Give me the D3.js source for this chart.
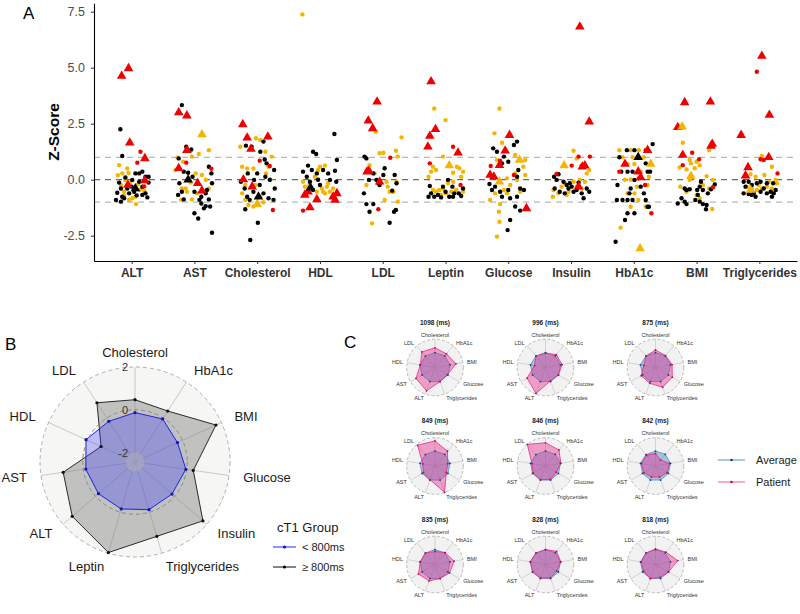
<!DOCTYPE html>
<html><head><meta charset="utf-8">
<script src="https://cdn.jsdelivr.net/npm/d3@7"></script>
<style>
body{margin:0;background:#fff}
svg{display:block;font-family:"Liberation Sans",Arial,sans-serif}
</style>
</head><body>
<svg id="chart" width="800" height="614"></svg>
<script>
// ---------------- DATA ----------------
const categories = ["ALT","AST","Cholesterol","HDL","LDL","Leptin","Glucose","Insulin","HbA1c","BMI","Triglycerides"];
const yTicks = [-2.5, 0, 2.5, 5, 7.5];
const refLines = [-1, 0, 1];
// each point: [jitter (fraction of category step), z-score, code]
// codes: k/g/r = black/gold/red dot, K/G/R = black/gold/red triangle
const zALT = [[-0.16,4.63,"R"],[-0.05,4.97,"R"],[-0.03,1.65,"R"],[0.21,0.95,"R"],[-0.06,-0.24,"R"],[0.21,-0.04,"R"],[0.06,-0.39,"K"],
[-0.18,2.25,"k"],[-0.15,1.06,"k"],[-0.2,-0.13,"k"],[-0.23,-0.58,"k"],[-0.25,-0.91,"k"],[-0.17,-0.98,"k"],[-0.12,-0.83,"k"],[-0.04,-0.61,"k"],[0.0,-0.31,"k"],[0.06,0.28,"k"],[0.12,0.28,"k"],[0.17,0.36,"k"],[0.22,0.13,"k"],[0.27,0.13,"k"],[0.27,-0.13,"k"],[0.22,-0.61,"k"],[0.25,-0.79,"k"],[0.17,-0.31,"k"],[0.01,-0.01,"k"],[-0.07,-0.39,"k"],[-0.17,-0.39,"k"],[-0.15,-0.76,"k"],[0.04,-0.54,"k"],[0.12,-0.09,"k"],[0.17,-0.68,"k"],[-0.1,0.1,"k"],[0.08,-0.7,"k"],
[-0.2,0.65,"g"],[-0.07,0.5,"g"],[-0.15,0.28,"g"],[-0.1,-0.01,"g"],[-0.02,-0.09,"g"],[-0.17,-0.24,"g"],[0.01,-0.83,"g"],[0.07,-1.09,"g"],[-0.04,-0.91,"g"],[0.12,-0.46,"g"],[0.17,-0.39,"g"],[-0.12,-0.54,"g"],[0.06,-0.76,"g"],[-0.22,0.2,"g"],[0.1,-0.2,"g"],[-0.05,0.3,"g"],[0.2,-0.5,"g"],[-0.12,-0.7,"g"],
[0.14,1.25,"r"],[0.09,0.76,"r"],[0.2,-0.3,"r"]];
const zAST = [[-0.25,3.0,"R"],[-0.12,2.86,"R"],[-0.12,1.32,"R"],[-0.25,0.51,"R"],[0.05,-0.16,"R"],[0.12,-0.49,"R"],[0.12,2.02,"G"],[-0.1,0.0,"K"],
[-0.2,3.33,"k"],[-0.13,1.47,"k"],[-0.05,1.35,"k"],[-0.25,0.95,"k"],[-0.17,0.36,"k"],[-0.1,0.31,"k"],[0.23,0.58,"k"],[0.27,0.28,"k"],[0.28,-0.16,"k"],[0.2,-0.46,"k"],[0.18,-0.61,"k"],[0.11,-0.76,"k"],[0.11,-1.06,"k"],[0.18,-1.18,"k"],[0.25,-1.2,"k"],[0.0,-1.5,"k"],[0.06,-1.73,"k"],[0.28,-2.37,"k"],[-0.24,-0.16,"k"],[-0.2,-0.54,"k"],[-0.17,-0.88,"k"],[-0.26,-0.68,"k"],[0,-0.54,"k"],[-0.03,0.13,"k"],[0.08,-0.9,"k"],[0.15,-1.28,"k"],[0.23,-0.88,"k"],
[-0.27,0.98,"g"],[-0.18,0.8,"g"],[-0.04,1.03,"g"],[0.07,1.15,"g"],[0.23,1.32,"g"],[0.02,0.28,"g"],[0.12,0.21,"g"],[0.18,0.0,"g"],[-0.14,-0.39,"g"],[-0.12,-0.54,"g"],[-0.21,-0.9,"g"],[-0.04,-0.88,"g"],[-0.2,-0.39,"g"],[-0.06,-0.13,"g"],[0.23,-0.39,"g"],[0.04,-0.61,"g"],[-0.3,0.43,"g"],
[-0.13,0.76,"r"],[0.27,0.49,"r"]];
const zCHOL = [[-0.23,2.47,"R"],[-0.16,1.87,"R"],[-0.1,1.37,"R"],[0.17,1.92,"R"],[-0.22,0.01,"R"],[-0.08,-0.31,"R"],[0,-1.09,"G"],[0.02,-0.76,"K"],
[-0.18,1.52,"k"],[-0.09,1.47,"k"],[0.1,1.7,"k"],[0.05,1.25,"k"],[0,0.28,"k"],[0.12,0.9,"k"],[-0.26,-0.09,"k"],[-0.2,-0.39,"k"],[-0.16,-0.76,"k"],[-0.19,-1.32,"k"],[-0.12,-0.9,"k"],[0.04,-0.24,"k"],[0.1,-0.61,"k"],[0.18,-0.83,"k"],[0.26,-0.9,"k"],[0.28,-0.39,"k"],[0.27,0.43,"k"],[0.15,0.73,"k"],[-0.06,-0.54,"k"],[0.01,-1.92,"k"],[-0.11,-2.69,"k"],[0.13,0.13,"k"],[0.2,0.0,"k"],[-0.15,0.28,"k"],[-0.05,-0.01,"k"],
[-0.27,1.47,"g"],[-0.02,1.85,"g"],[0.05,1.77,"g"],[-0.24,0.58,"g"],[-0.16,0.5,"g"],[-0.06,0.5,"g"],[-0.19,-0.24,"g"],[-0.03,-0.24,"g"],[0.14,0.28,"g"],[0.21,0,"g"],[-0.19,-0.9,"g"],[-0.14,-1.13,"g"],[0.1,-1.01,"g"],[-0.06,-1.2,"g"],[0.18,0.58,"g"],[0.13,1.25,"g"],[0.23,1.03,"g"],[-0.24,-0.61,"g"],[0.05,-0.76,"g"],
[0.25,-1.35,"r"],[0.04,0.85,"r"],[0.2,0.61,"r"]];
const zHDL = [[-0.28,7.38,"g"],
[0.23,2.04,"k"],[-0.11,1.25,"k"],[-0.06,1.15,"k"],[-0.27,0.36,"k"],[-0.19,0.63,"k"],[-0.13,0.43,"k"],[-0.05,0.28,"k"],[-0.21,0.13,"k"],[0.05,0.43,"k"],[0.13,0.28,"k"],[0.24,0.4,"k"],[0.27,0.88,"k"],[0.16,-0.01,"k"],[0,-0.24,"k"],[-0.11,-0.46,"k"],[-0.22,-0.61,"k"],[0.26,-0.09,"k"],[-0.16,-0.09,"k"],[-0.03,0,"k"],
[-0.27,-0.09,"g"],[-0.17,-0.24,"g"],[-0.05,-0.54,"g"],[0.03,-0.39,"g"],[0.05,-0.54,"g"],[0.11,-0.31,"g"],[0.16,-0.54,"g"],[0.08,-0.61,"g"],[0.21,-0.39,"g"],[0,0.58,"g"],[0.08,0.63,"g"],[-0.03,0.43,"g"],[0.13,-0.16,"g"],[-0.24,-0.31,"g"],[0.19,-0.76,"g"],[-0.08,0.13,"g"],
[-0.24,-0.68,"R"],[-0.19,-0.54,"R"],[-0.16,-1.24,"R"],[-0.05,-0.88,"R"],[0.21,-0.76,"R"],[0.24,-0.91,"R"],[0.27,-0.61,"R"],[-0.15,-0.36,"K"],
[-0.27,-1.38,"r"]];
const zLDL = [[-0.09,3.48,"R"],[-0.23,2.63,"R"],[-0.16,2.29,"R"],[-0.25,0.36,"R"],[-0.22,0.39,"R"],[-0.05,-0.09,"R"],
[-0.11,2.14,"g"],[-0.05,1.18,"g"],[0.01,1.2,"g"],[0.21,1.29,"g"],[0.3,1.89,"g"],[-0.21,0.65,"g"],[-0.13,0.28,"g"],[0.06,-0.09,"g"],[0.11,-0.54,"g"],[0.17,-0.54,"g"],[0.24,-0.98,"g"],[0.03,-0.91,"g"],[-0.17,-1.95,"g"],[-0.26,-0.24,"g"],[0.08,-0.31,"g"],[0.22,-0.09,"g"],[0.24,1.03,"g"],
[-0.29,1.03,"k"],[-0.26,0.95,"k"],[0.03,0.51,"k"],[0.19,0.21,"k"],[0.22,-0.16,"k"],[-0.07,-0.16,"k"],[-0.05,-0.24,"k"],[-0.1,-0.01,"k"],[-0.22,-0.01,"k"],[-0.3,-0.61,"k"],[-0.26,-1.09,"k"],[-0.21,-1.43,"k"],[-0.15,-1.09,"k"],[0.11,-1.92,"k"],[0.18,-1.43,"k"],[0.21,-1.35,"k"],[-0.15,0.28,"k"],[0.01,0.21,"k"],[0.15,-0.49,"k"],
[0.12,0.98,"r"],[-0.07,-1.32,"r"]];
const zLEP = [[-0.23,4.38,"R"],[-0.16,2.25,"R"],[-0.25,1.95,"R"],[-0.28,1.47,"R"],[0.2,1.2,"R"],[0.06,0.63,"G"],
[-0.18,3.18,"g"],[0,2.66,"g"],[-0.04,1.03,"g"],[-0.2,0.58,"g"],[-0.15,0.43,"g"],[-0.23,0.36,"g"],[-0.27,0.13,"g"],[0.04,-0.16,"g"],[0.12,-0.09,"g"],[0.25,0.13,"g"],[0.22,0.51,"g"],[0.18,0.58,"g"],[-0.2,-0.46,"g"],[-0.15,-0.54,"g"],[-0.1,-0.46,"g"],[-0.04,-0.39,"g"],[0.01,-0.61,"g"],[0.09,-0.54,"g"],[0.17,-0.46,"g"],[0.28,-0.54,"g"],[-0.07,-0.68,"g"],[0.12,0.31,"g"],[0.28,0.36,"g"],
[-0.25,-0.28,"k"],[-0.23,-0.61,"k"],[-0.27,-0.76,"k"],[-0.18,-0.76,"k"],[-0.12,-0.68,"k"],[-0.07,-0.79,"k"],[0,-0.54,"k"],[0.04,-0.01,"k"],[0.11,-0.31,"k"],[0.14,-0.61,"k"],[0.21,-0.61,"k"],[0.25,-0.73,"k"],[0.06,-0.76,"k"],[-0.04,-0.31,"k"],[0.28,-0.39,"k"],[0.12,-0.76,"k"],
[0.12,1.47,"r"],[-0.25,0.73,"r"],[0.24,-0.24,"r"]];
const zGLU = [[0.02,1.99,"R"],[-0.05,1.29,"R"],[-0.14,0.65,"R"],[-0.29,0.21,"R"],[-0.23,0.13,"R"],[0.29,-1.28,"R"],[0.18,0.88,"G"],[-0.14,-0.09,"G"],
[-0.14,3.18,"g"],[-0.22,2.07,"g"],[-0.1,1.65,"g"],[-0.18,0.88,"g"],[0.11,1.1,"g"],[0.27,0.88,"g"],[0.24,0.58,"g"],[0.27,0.21,"g"],[0.11,0.28,"g"],[-0.02,0.06,"g"],[0.03,-0.24,"g"],[-0.07,-0.46,"g"],[-0.02,-0.61,"g"],[-0.29,-0.91,"g"],[-0.13,-1.09,"g"],[-0.15,-1.43,"g"],[-0.14,-1.88,"g"],[-0.18,-2.54,"g"],[0.19,-0.54,"g"],[0.14,-0.01,"g"],[-0.21,-0.61,"g"],
[-0.24,1.4,"k"],[-0.18,1.25,"k"],[-0.07,1.03,"k"],[0.09,1.55,"k"],[0.14,1.7,"k"],[0,0.8,"k"],[-0.1,0.73,"k"],[0.16,0.43,"k"],[0.14,0.13,"k"],[-0.3,-0.19,"k"],[-0.21,-0.31,"k"],[-0.13,-0.54,"k"],[-0.1,-0.76,"k"],[0,-0.46,"k"],[0.03,-0.83,"k"],[0.14,-0.76,"k"],[0.19,-0.39,"k"],[0.25,-0.46,"k"],[0.11,-1.2,"k"],[0.19,-1.38,"k"],[0.03,-1.8,"k"],[-0.01,-2.25,"k"],[-0.26,-0.46,"k"],
[-0.28,0.61,"r"],[-0.13,0.85,"r"],[0.09,0.21,"r"]];
const zINS = [[0.14,6.83,"R"],[0.29,2.59,"R"],[0.22,0.63,"R"],[0.18,0.58,"R"],[0.12,-0.31,"R"],[-0.11,0.63,"G"],
[0.04,1.29,"g"],[0.09,0.95,"g"],[-0.23,0.28,"g"],[-0.28,-0.46,"g"],[-0.2,-0.61,"g"],[-0.15,-0.31,"g"],[-0.1,-0.16,"g"],[-0.04,-0.54,"g"],[0.04,-0.09,"g"],[0.14,-0.01,"g"],[0.22,-0.09,"g"],[0.25,0.28,"g"],[0.29,0.43,"g"],[-0.29,-0.76,"g"],[-0.07,-0.68,"g"],[0.17,-0.39,"g"],[0.09,-0.31,"g"],
[-0.27,0.13,"k"],[-0.23,-0.01,"k"],[-0.2,0.24,"k"],[-0.26,-0.39,"k"],[-0.18,-0.54,"k"],[-0.1,-0.61,"k"],[-0.04,-0.39,"k"],[0.01,-0.31,"k"],[0.04,-0.54,"k"],[0.09,-0.46,"k"],[0.17,-0.61,"k"],[0.2,-0.83,"k"],[0.25,-0.39,"k"],[0.29,-0.54,"k"],[-0.12,-0.09,"k"],[-0.02,-0.16,"k"],[0.12,-0.13,"k"],[-0.07,-0.24,"k"],
[-0.23,0.25,"r"],[0.3,1.03,"r"],[0.17,0.63,"r"],[0.01,0.63,"r"],[0.12,1.03,"r"]];
const zHBA = [[0.22,1.32,"R"],[-0.14,0.7,"R"],[0.07,0.36,"R"],[0.11,0.1,"R"],[0.07,1.0,"K"],[0.1,-3.07,"G"],[0.27,0.7,"G"],
[-0.23,1.32,"g"],[-0.05,1.32,"g"],[0.08,1.32,"g"],[-0.18,1.0,"g"],[0.16,1.0,"g"],[-0.1,0.7,"g"],[0.01,0.7,"g"],[-0.05,0.01,"g"],[0.05,-0.31,"g"],[-0.1,-0.61,"g"],[0.01,-0.61,"g"],[0.07,-0.91,"g"],[-0.05,-1.21,"g"],[-0.21,-2.14,"g"],[0.22,-0.24,"g"],[0.19,-1.21,"g"],[0.11,0.36,"g"],[0.24,0.13,"g"],[-0.14,0,"g"],[-0.02,1.0,"g"],
[-0.29,-2.77,"k"],[-0.14,-1.8,"k"],[-0.1,-1.5,"k"],[-0.26,-0.24,"k"],[-0.27,-0.91,"k"],[-0.18,-0.91,"k"],[-0.1,-0.91,"k"],[-0.02,-0.91,"k"],[-0.2,0.36,"k"],[-0.1,0.36,"k"],[-0.02,0.36,"k"],[0.22,0.36,"k"],[0.26,0.36,"k"],[0.19,0.73,"k"],[0.3,1.59,"k"],[-0.11,1.32,"k"],[0.01,1.32,"k"],[-0.23,1.0,"k"],[-0.05,-0.39,"k"],[0.01,-0.01,"k"],[0.19,-0.91,"k"],[0.22,-1.21,"k"],[0.24,-1.21,"k"],[0.11,-0.31,"k"],[0.16,-0.61,"k"],[-0.07,-0.61,"k"],[0.01,-1.5,"k"],
[0.18,-0.24,"r"],[0.28,-1.5,"r"],[-0.23,0.36,"r"],[0.08,0.06,"r"],[0.19,1.32,"r"]];
const zBMI = [[-0.19,3.45,"R"],[0.22,3.48,"R"],[-0.3,2.34,"R"],[-0.22,1.1,"R"],[0.25,1.59,"R"],[0.23,1.5,"R"],[-0.23,2.37,"G"],[-0.09,0.16,"G"],
[-0.22,1.65,"g"],[-0.27,0.55,"g"],[-0.11,0.88,"g"],[-0.09,0.73,"g"],[0,0.8,"g"],[0.05,0.65,"g"],[-0.03,0.51,"g"],[-0.16,0.46,"g"],[0.2,1.32,"g"],[0.16,0.16,"g"],[0.26,-0.01,"g"],[0.1,-0.24,"g"],[0,-0.68,"g"],[0.05,-0.83,"g"],[0.25,-1.31,"g"],[-0.26,-0.31,"g"],[-0.16,-0.54,"g"],[-0.11,-0.01,"g"],[0.2,-0.39,"g"],
[-0.19,-0.39,"k"],[-0.16,-0.46,"k"],[-0.11,-0.43,"k"],[-0.3,-1.06,"k"],[-0.24,-0.83,"k"],[-0.19,-0.98,"k"],[-0.16,-1.09,"k"],[-0.02,-0.91,"k"],[0.05,-0.98,"k"],[0.1,-1.09,"k"],[0.16,-1.13,"k"],[0.15,-1.32,"k"],[0.02,-0.68,"k"],[0.05,-0.31,"k"],[0.07,-0.09,"k"],[0.1,-0.46,"k"],[0.18,-0.61,"k"],[0.23,-0.43,"k"],[0.29,-0.21,"k"],[0.01,-0.46,"k"],
[-0.22,0.65,"r"],[-0.07,1.2,"r"],[0.04,0.91,"r"],[0.26,-0.34,"r"]];
const zTRI = [[0.04,5.52,"R"],[0.16,2.89,"R"],[-0.29,1.99,"R"],[0.15,1.0,"R"],[-0.18,0.55,"R"],[-0.22,0.18,"R"],[-0.14,-0.46,"G"],
[-0.04,4.82,"r"],[0.02,0.91,"r"],[0.07,0.88,"r"],[0.29,0.28,"r"],
[0.04,1.06,"g"],[0.2,0.58,"g"],[0.08,0.21,"g"],[-0.14,0.25,"g"],[-0.06,0.13,"g"],[0.26,-0.01,"g"],[0.28,-0.16,"g"],[-0.2,-0.31,"g"],[-0.12,-0.39,"g"],[-0.04,-0.46,"g"],[0.04,-0.39,"g"],[0.12,-0.31,"g"],[0.2,-0.39,"g"],[-0.17,-0.54,"g"],[-0.01,-0.24,"g"],[0.15,-0.09,"g"],
[-0.25,-0.09,"k"],[-0.22,-0.31,"k"],[-0.25,-0.61,"k"],[-0.17,-0.09,"k"],[-0.12,-0.24,"k"],[-0.09,-0.61,"k"],[-0.06,-0.76,"k"],[0.02,-0.54,"k"],[0.07,-0.39,"k"],[0.12,-0.61,"k"],[0.18,-0.54,"k"],[0.23,-0.61,"k"],[0.26,-0.46,"k"],[0.02,-0.09,"k"],[0.12,-0.16,"k"],[0.22,-0.16,"k"],[-0.04,-0.16,"k"],[-0.17,-0.64,"k"],[0.2,-0.76,"k"],[-0.12,-0.68,"k"]];
const pointsByCategory = [zALT,zAST,zCHOL,zHDL,zLDL,zLEP,zGLU,zINS,zHBA,zBMI,zTRI];

// Panel B
const radarAxesB = ["Cholesterol","HbA1c","BMI","Glucose","Insulin","Triglycerides","Leptin","ALT","AST","HDL","LDL"];
const groupBelow800 = [-0.135,-0.05,-0.26,-0.04,-0.155,-0.12,-0.155,-0.18,-0.12,0.075,-0.18];
const groupAbove800 = [0.47,0.39,1.72,0.31,1.76,1.18,1.97,1.44,0.95,-0.70,0.85];
const gridValues = [-2, 0, 2];
const legendB = ["< 800ms", "\u2265 800ms"];

// Panel C
const radarAxesC = ["Cholesterol","HbA1c","BMI","Glucose","Triglycerides","ALT","AST","HDL","LDL"];
const patientTitles = ["1098 (ms)","996 (ms)","875 (ms)","849 (ms)","846 (ms)","842 (ms)","835 (ms)","828 (ms)","818 (ms)"];
const averageProfile = [-0.1,-0.05,-0.05,-0.1,-0.1,-0.1,-0.1,-0.05,-0.1];
const p1098 = [0.65,0.35,0.9,-0.2,-0.1,1.45,1.0,-0.1,0.75];
const p996 = [-0.2,0.2,0.2,-0.1,-0.2,1.9,0.9,-0.7,-0.1];
const p875 = [0.3,0.0,0.2,0.6,0.85,0.2,0.15,-0.6,-0.1];
const p849 = [1.5,0.6,-0.4,-0.4,1.95,-0.15,-0.35,-0.5,1.8];
const p846 = [1.2,0.85,0.0,-0.5,-0.2,-0.15,-0.2,-0.3,2.0];
const p842 = [-0.5,-1.2,-0.2,-0.35,-0.6,-0.6,-0.35,-0.2,-0.25];
const p835 = [-0.4,0.0,0.6,0.2,-0.1,0.3,0.55,-0.1,-0.1];
const p828 = [-0.1,0.25,0.0,-0.4,-0.2,-0.2,-0.1,0.0,-0.1];
const p818 = [0.0,0.1,1.1,-0.1,-0.3,-0.1,-0.3,-0.15,-0.1];
const patientProfiles = [p1098,p996,p875,p849,p846,p842,p835,p828,p818];
const legendC = ["Average","Patient"];

// ---------------- DRAW ----------------
const svg = d3.select("#chart");
const FONT = '"Liberation Sans",Arial,sans-serif';

// ===== Panel A =====
const xA = d3.scalePoint().domain(categories).range([94,797]).padding(0.6);
const yA = d3.scaleLinear().domain([-3.63,7.875]).range([261,3.3]);
const gA = svg.append("g");
gA.selectAll("line.ref").data(refLines).join("line")
  .attr("x1",94).attr("x2",797).attr("y1",d=>yA(d)).attr("y2",d=>yA(d))
  .attr("stroke",d=>d===0?"#6a6a6a":"#b8b8b8").attr("stroke-width",1.2).attr("stroke-dasharray","6,5");

const colorOf = {k:"#000000",g:"#f5b400",r:"#ee0000",K:"#000000",G:"#f5b400",R:"#ee0000"};
const allPts = [];
categories.forEach((c,i)=>pointsByCategory[i].forEach(p=>allPts.push({cat:c,dx:p[0],z:p[1],code:p[2]})));
const dotOrder = {g:0,k:1,r:2};
const dots = allPts.filter(p=>p.code in dotOrder).sort((a,b)=>dotOrder[a.code]-dotOrder[b.code]);
const tris = allPts.filter(p=>!(p.code in dotOrder));
const step = xA.step();
gA.selectAll("circle.pt").data(dots).join("circle")
  .attr("cx",d=>xA(d.cat)+d.dx*step).attr("cy",d=>yA(d.z)).attr("r",2.2)
  .attr("fill",d=>colorOf[d.code]);
const tri = d3.symbol().type(d3.symbolTriangle).size(40);
gA.selectAll("path.tri").data(tris).join("path")
  .attr("d",tri).attr("transform",d=>`translate(${xA(d.cat)+d.dx*step},${yA(d.z)})`)
  .attr("fill",d=>colorOf[d.code]);

const axY = gA.append("g").attr("transform","translate(94,0)")
  .call(d3.axisLeft(yA).tickValues(yTicks).tickFormat(d=>d.toFixed(1)).tickSize(3).tickSizeOuter(0).tickPadding(6));
axY.select(".domain").attr("stroke","#000").attr("stroke-width",1.1);
axY.selectAll(".tick line").attr("stroke","#333");
axY.selectAll(".tick text").attr("font-size",12.5).attr("fill","#4d4d4d").attr("font-family",FONT);
const axX = gA.append("g").attr("transform","translate(0,261)")
  .call(d3.axisBottom(xA).tickSize(3).tickSizeOuter(0).tickPadding(4));
axX.select(".domain").attr("stroke","#000").attr("stroke-width",1.1);
axX.selectAll(".tick line").attr("stroke","#333");
axX.selectAll(".tick text").attr("font-size",12).attr("font-weight","bold").attr("fill","#333").attr("font-family",FONT);
gA.append("text").attr("transform","translate(59,132) rotate(-90)").attr("text-anchor","middle")
  .attr("font-size",15.5).attr("font-weight","bold").attr("fill","#000").text("Z-Score");

// panel letters
[["A",23,19],["B",5,350],["C",344,348]].forEach(([t,x,y])=>svg.append("text").attr("x",x).attr("y",y).attr("font-size",17).attr("fill","#000").text(t));

// ===== Radar helper =====
function drawRadar(g, axes, R, series, opt){
  const n = axes.length, gMin = gridValues[0], gMax = gridValues[gridValues.length-1];
  const centreY = gMin - (gMax-gMin)/9;
  const r = d3.scaleLinear().domain([centreY,gMax]).range([0,R]);
  const ang = i => i*2*Math.PI/n;
  g.append("circle").attr("r",R).attr("fill",opt.bg);
  g.selectAll("line.spoke").data(axes).join("line")
    .attr("x1",0).attr("y1",0).attr("x2",(d,i)=>R*Math.sin(ang(i))).attr("y2",(d,i)=>-R*Math.cos(ang(i)))
    .attr("stroke",opt.spoke).attr("stroke-width",opt.spokeW);
  const line = d3.lineRadial().angle((d,i)=>ang(i)).radius(d=>r(d)).curve(d3.curveLinearClosed);
  series.forEach(s=>{
    g.append("path").attr("d",line(s.values)).attr("fill",s.fill).attr("fill-opacity",s.fillOpacity)
      .attr("stroke",s.stroke).attr("stroke-width",s.strokeW);
  });
  opt.grid.forEach(gd=>{
    g.append("circle").attr("r",r(gd.v)).attr("fill",gd.fill||"none").attr("fill-opacity",gd.fillOpacity||0)
      .attr("stroke",gd.stroke).attr("stroke-width",gd.w).attr("stroke-dasharray",gd.dash);
  });
  series.forEach(s=>{
    g.selectAll(null).data(s.values).join("circle")
      .attr("cx",(d,i)=>r(d)*Math.sin(ang(i))).attr("cy",(d,i)=>-r(d)*Math.cos(ang(i)))
      .attr("r",s.dotR).attr("fill",s.dot);
  });
  const LR = R*1.15;
  g.selectAll("text.lab").data(axes).join("text")
    .attr("x",(d,i)=>LR*Math.sin(ang(i))).attr("y",(d,i)=>-LR*Math.cos(ang(i)))
    .attr("text-anchor",(d,i)=>{const s=Math.sin(ang(i)); return Math.abs(s)<1e-6?"middle":(s>0?"start":"end");})
    .attr("dominant-baseline","central").attr("font-size",opt.labelSize).attr("fill",opt.labelColor).text(d=>d);
  return r;
}

// ===== Panel B =====
const gB = svg.append("g").attr("transform","translate(135,462)");
const rB = drawRadar(gB, radarAxesB, 95, [
  {values:groupAbove800, fill:"#808080", fillOpacity:0.45, stroke:"#2a2a2a", strokeW:1, dot:"#111", dotR:1.6},
  {values:groupBelow800, fill:"#3535ff", fillOpacity:0.3, stroke:"#2020e6", strokeW:1, dot:"#1515b0", dotR:1.6}
], {bg:"#f6f6f4", spoke:"#bdbdbd", spokeW:0.8, labelSize:13, labelColor:"#1a1a1a",
    grid:[{v:-2,stroke:"#999",w:0.8,dash:"3,3",fill:"#b5b5b5",fillOpacity:0.45},{v:0,stroke:"#8a8a8a",w:1,dash:"4,3"},{v:2,stroke:"#b0b0b0",w:1,dash:"4,3"}]});
gB.selectAll("text.grid").data(gridValues).join("text")
  .attr("x",-7).attr("y",d=>-rB(d)).attr("text-anchor","end").attr("dominant-baseline","central")
  .attr("font-size",11).attr("fill","#333").text(d=>String(d));
// legend B
svg.append("text").attr("x",277).attr("y",532).attr("font-size",13).attr("fill","#1a1a1a").text("cT1 Group");
const legBColors = [["#4a4aff","#1515b0"],["#333","#000"]];
legendB.forEach((t,i)=>{
  const y = 547 + i*20;
  svg.append("line").attr("x1",273).attr("x2",296).attr("y1",y).attr("y2",y).attr("stroke",legBColors[i][0]).attr("stroke-width",1.2);
  svg.append("circle").attr("cx",284.5).attr("cy",y).attr("r",1.6).attr("fill",legBColors[i][1]);
  svg.append("text").attr("x",302).attr("y",y).attr("dominant-baseline","central").attr("font-size",11).attr("fill","#1a1a1a").text(t);
});

// ===== Panel C =====
const colX = [435,545.5,655.5], rowY = [367.5,466,564.5];
patientProfiles.forEach((prof,k)=>{
  const cx = colX[k%3], cy = rowY[Math.floor(k/3)];
  const g = svg.append("g").attr("transform",`translate(${cx},${cy})`);
  drawRadar(g, radarAxesC, 28.3, [
    {values:averageProfile, fill:"#4a86c0", fillOpacity:0.45, stroke:"#4f8fc0", strokeW:0.8, dot:"#1d3f66", dotR:0.9},
    {values:prof, fill:"#e7298a", fillOpacity:0.42, stroke:"#e7298a", strokeW:0.8, dot:"#b0125a", dotR:0.9}
  ], {bg:"#f2f2f2", spoke:"#c6c6c6", spokeW:0.7, labelSize:5.5, labelColor:"#333",
      grid:[{v:2,stroke:"#a8a8a8",w:0.8,dash:"3,2"}]});
  svg.append("text").attr("x",cx).attr("y",cy-45.5).attr("text-anchor","middle").attr("dominant-baseline","central")
    .attr("font-size",6.5).attr("font-weight","bold").attr("fill","#222").text(patientTitles[k]);
});
// legend C
const legCColors = [["#8fb3d3","#1d3f66"],["#f48fb8","#b0125a"]];
legendC.forEach((t,i)=>{
  const y = 460 + i*22;
  svg.append("line").attr("x1",718).attr("x2",745).attr("y1",y).attr("y2",y).attr("stroke",legCColors[i][0]).attr("stroke-width",1.5);
  svg.append("circle").attr("cx",731.5).attr("cy",y).attr("r",1.3).attr("fill",legCColors[i][1]);
  svg.append("text").attr("x",756).attr("y",y).attr("dominant-baseline","central").attr("font-size",11).attr("fill","#1a1a1a").text(t);
});
</script>
</body></html>
